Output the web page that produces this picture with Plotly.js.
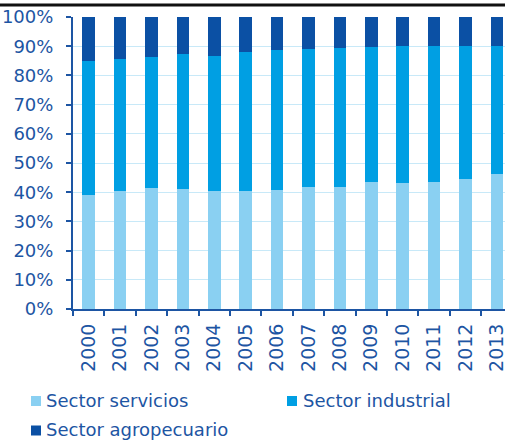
<!DOCTYPE html>
<html>
<head>
<meta charset="utf-8">
<script src="https://cdn.plot.ly/plotly-3.0.1.min.js"></script>
<style>
html,body{margin:0;padding:0;background:#fff;overflow:hidden;}
#chart{width:505px;height:443px;}
</style>
</head>
<body>
<div id="chart"></div>
<script>
var years = ["2000","2001","2002","2003","2004","2005","2006","2007","2008","2009","2010","2011","2012","2013"];
var servicios = [38.9, 40.4, 41.3, 41.1, 40.4, 40.4, 40.9, 41.8, 41.8, 43.4, 43.2, 43.4, 44.5, 46.1];
var industrial = [45.9, 45.1, 44.9, 46.1, 46.1, 47.5, 47.9, 47.2, 47.5, 46.2, 46.7, 46.5, 45.4, 43.9];
var agropecuario = [15.2, 14.5, 13.8, 12.8, 13.5, 12.1, 11.2, 11.0, 10.7, 10.4, 10.1, 10.1, 10.1, 10.0];
var seriesNames = ["Sector servicios", "Sector industrial", "Sector agropecuario"];
var yTicks = [0,10,20,30,40,50,60,70,80,90,100];

var colors = ["#8ad0f2", "#009fe3", "#0b50a4"];
var textColor = "#1d55a3";
var font = "DejaVu Sans, Verdana, sans-serif";

var W = 505, H = 443, L = 73, R = 0, T = 17, B = 134;
var pw = W - L - R, ph = H - T - B;
function px2paperX(x){ return (x - L) / pw; }
function px2paperY(y){ return (H - B - y) / ph; }

var data = [servicios, industrial, agropecuario].map(function(vals, i){
  return {
    type: "bar", x: years, y: vals, name: seriesNames[i],
    marker: {color: colors[i], line: {width: 0}},
    width: 0.4, hoverinfo: "x+y+name"
  };
});

var legendPos = [
  {mx: 31, tx: 44, cy: 401},
  {mx: 287, tx: 301, cy: 401},
  {mx: 31, tx: 44, cy: 430.5}
];
var shapes = [{
  type: "rect", xref: "paper", yref: "paper", layer: "above",
  x0: px2paperX(0), x1: px2paperX(W), y0: px2paperY(6.5), y1: px2paperY(3.5),
  fillcolor: "#111111", line: {width: 0}
}];
var annotations = [];
legendPos.forEach(function(p, i){
  shapes.push({
    type: "rect", xref: "paper", yref: "paper",
    x0: px2paperX(p.mx), x1: px2paperX(p.mx + 10),
    y0: px2paperY(p.cy + 5), y1: px2paperY(p.cy - 5),
    fillcolor: colors[i], line: {width: 0}
  });
  annotations.push({
    xref: "paper", yref: "paper", x: px2paperX(p.tx), y: px2paperY(p.cy - 1),
    xanchor: "left", yanchor: "middle", showarrow: false,
    text: seriesNames[i], font: {family: font, size: 18, color: textColor}
  });
});

var layout = {
  width: W, height: H,
  margin: {l: L, r: R, t: T, b: B, pad: 0},
  paper_bgcolor: "#fff", plot_bgcolor: "#fff",
  barmode: "stack",
  showlegend: false,
  font: {family: font, size: 18, color: textColor},
  xaxis: {
    type: "category", range: [-0.5, 13.26],
    tickson: "boundaries", ticks: "outside", ticklen: 5, tickwidth: 2, tickcolor: "#1d55a3",
    showline: true, linecolor: "#1d55a3", linewidth: 2,
    showgrid: false, tickangle: -90,
    tickfont: {family: font, size: 19, color: textColor},
    ticklabelstandoff: 5,
    fixedrange: true
  },
  yaxis: {
    range: [0, 100], tickvals: yTicks, ticktext: yTicks.map(function(v){return v + "%";}),
    ticks: "outside", ticklen: 5, tickwidth: 2, tickcolor: "#1d55a3",
    showline: true, linecolor: "#1d55a3", linewidth: 2,
    showgrid: true, gridcolor: "#c8e9f8", gridwidth: 1,
    zeroline: false,
    tickfont: {family: font, size: 18, color: textColor},
    ticklabelstandoff: 9,
    fixedrange: true
  },
  shapes: shapes,
  annotations: annotations
};

Plotly.newPlot("chart", data, layout, {displayModeBar: false, staticPlot: true});
</script>
</body>
</html>
